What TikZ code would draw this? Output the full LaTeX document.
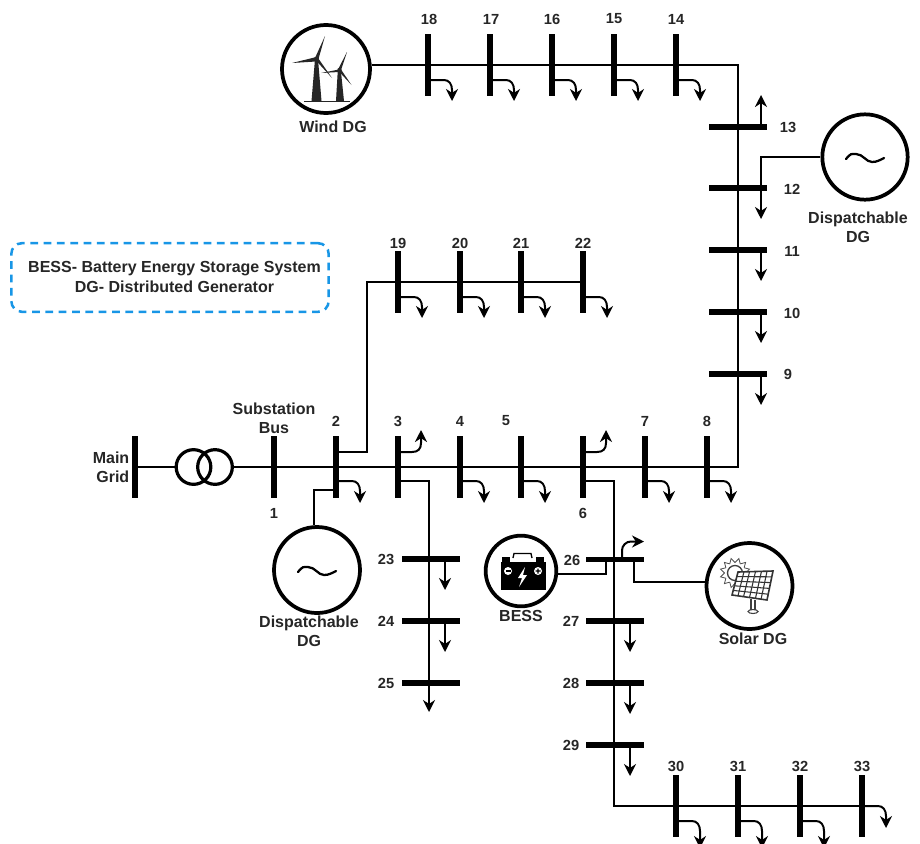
\documentclass[tikz,border=0pt]{standalone}
\usepackage{fontspec}
\setmainfont{Liberation Sans}
\usetikzlibrary{arrows.meta,calc}
\tikzset{
  vbus/.style={fill=black,inner sep=0pt,minimum width=4.6pt,minimum height=46pt},
  hbus/.style={fill=black,inner sep=0pt,minimum width=43.5pt,minimum height=4.4pt},
  wire/.style={draw=black,line width=1.5pt},
  loadw/.style={draw=black,line width=1.5pt,-{Stealth[length=9pt,width=9pt]}},
  lbl/.style={font=\bfseries\fontsize{11}{14}\selectfont,text=black!85,inner sep=0pt,align=center},
  wrd/.style={font=\bfseries\fontsize{12}{14.3}\selectfont,text=black!85,inner sep=0pt,align=center},
  src/.style={circle,draw=black,line width=2.8pt,inner sep=0pt,fill=white},
}
% load hanging down on the right of a vertical bus
\newcommand{\loaddn}[3]{\draw[loadw] ([yshift=-#2*0.75pt]#1.center) -- ++(16,0) .. controls +(5,0) and +(0,-6) .. ++(8,10) -- ++(0,#3);}
% load going up on the right of a vertical bus
\newcommand{\loadup}[2]{\draw[loadw] ([yshift=#2*0.75pt]#1.center) -- ++(14,0) .. controls +(6,0) and +(0,6) .. ++(9,-9) -- ++(0,-13);}
\newcommand{\sinewave}[1]{\draw[line width=1.7pt,line cap=round] ($(#1.center)+(-19,2)$) .. controls +(5,-6) and +(-5,0) .. ++(10,-5) .. controls +(7,0) and +(-6,0) .. ++(16,8) .. controls +(5,0) and +(-4,2) .. ++(12,-4);}
\begin{document}
\begin{tikzpicture}[x=0.75pt,y=-0.75pt]
\useasboundingbox (0,0) rectangle (920,843);
\coordinate (corner8) at (738,467);
\coordinate (corner14) at (738,65);
\node[src,minimum size=66pt] (wind) at (326,69) {};
\node[src,minimum size=64pt] (dg12) at (865,157) {};
\node[src,minimum size=64.5pt] (dg2) at (317,570) {};
\node[src,minimum size=53pt] (bess) at (521,571) {};
\node[src,minimum size=64.5pt] (solar) at (749.5,586) {};
\node[circle,draw=black,line width=2.4pt,inner sep=0pt,minimum size=26pt] (t1) at (193.5,467) {};
\node[circle,draw=black,line width=2.4pt,inner sep=0pt,minimum size=26pt] (t2) at (215,467) {};

\node[vbus] (grid) at (135,467) {};
\foreach \n/\x in {1/274,2/336,3/398,4/460,5/521,6/583,7/645,8/707}
  \node[vbus] (b\n) at (\x,467) {};
\foreach \n/\x in {18/428,17/490,16/552,15/614,14/676}
  \node[vbus] (b\n) at (\x,65) {};
\foreach \n/\x in {19/398,20/460,21/521,22/583}
  \node[vbus] (b\n) at (\x,282) {};
\foreach \n/\x in {30/676,31/738,32/800,33/862}
  \node[vbus] (b\n) at (\x,806) {};
\foreach \n/\y in {13/127,12/188,11/250,10/312,9/374}
  \node[hbus] (b\n) at (738,\y) {};
\foreach \n/\y in {23/559,24/621,25/683}
  \node[hbus] (b\n) at (431,\y) {};
\foreach \n/\y in {26/559.5,27/621,28/683,29/745}
  \node[hbus] (b\n) at (615,\y) {};

% wires
\draw[wire] (grid.center) -- (t1.west);
\draw[wire] (t2.east) -- (b1.center) -- (b8.center) -- (corner8) -- (corner14) -- (corner14 -| wind.east);
\draw[wire] ([yshift=11.25pt]b2.center) -- ++(31,0) |- (b19.center) -- (b22.center);
\draw[wire] ([yshift=-17pt]b2.center) -- ++(-22,0) -- (dg2.north -| 314,0);
\draw[wire] ([yshift=-10.5pt]b3.center) -- ++(31,0) -- (429,683);
\draw[loadw] (429,683) -- ++(0,29);
\draw[wire] ([yshift=-10.5pt]b6.center) -- ++(31,0) -- (614,745) -- ++(0,61) -- (b33.center);
\draw[wire] (606,559.5) -- ++(0,14) -- (bess.east |- 0,573.5);
\draw[wire] (634,559.5) -- ++(0,22.5) -- (solar.west |- 0,582);
\draw[wire] (b12.center) ++(23,0) -- ++(0,-31) -- (dg12.west);

% loads on vertical buses
\foreach \n in {2,4,5,7,8}{\loaddn{b\n}{14}{12}}
\foreach \n in {18,17,16,15,14,19,20,21,22}{\loaddn{b\n}{15}{11}}
\foreach \n in {30,31,32}{\loaddn{b\n}{15}{17}}
\loaddn{b33}{0}{12}
\loadup{b3}{15}
\loadup{b6}{15}
% loads on horizontal buses
\draw[loadw] ([xshift=17.25pt]b13.center) -- ++(0,-32);
\foreach \n in {12,11,10,9}{\draw[loadw] ([xshift=17.25pt]b\n.center) -- ++(0,31);}
\foreach \n in {23,24}{\draw[loadw] (445,0 |- b\n.center) -- ++(0,31);}
\foreach \n in {27,28,29}{\draw[loadw] (630,0 |- b\n.center) -- ++(0,31);}
\draw[loadw] (622,559.5) -- ++(0,-9) .. controls +(0,-5) and +(-5,0) .. ++(9,-9) -- ++(13,0);

\sinewave{dg12}
\sinewave{dg2}

% wind turbines
\begin{scope}[fill=black!85,draw=none]
\fill (315,59) -- (318,59) -- (321.5,101) -- (311.5,101) -- cycle;
\fill (337.8,70) -- (340.8,70) -- (344,101) -- (336,101) -- cycle;
\fill (316.5,57) -- (292,63) -- (316,61.5) -- cycle;
\fill (315,58) -- (325,36) -- (318.5,59) -- cycle;
\fill (315.5,60) -- (332,78) -- (318,58) -- cycle;
\fill (338.5,68.5) -- (347,52) -- (341,70) -- cycle;
\fill (338.5,71) -- (351.5,85) -- (341,69.5) -- cycle;
\fill (339,69.5) -- (321,73) -- (339,72) -- cycle;
\fill (316.5,59) circle (2.5);
\fill (339.5,70) circle (2.2);
\draw[black!85,line width=0.9pt] (304,101.5) -- (350,101.5);
\end{scope}

% battery
\draw[black,line width=1pt] (513,558) -- (514,553.5) -- (531,553.5) -- (532,558);
\fill[black] (500.5,562) rectangle (546,589.5);
\fill[black] (502,556.5) rectangle (510,562);
\fill[black] (536,556.5) rectangle (544,562);
\fill[white] (508,571) circle (4);
\fill[white] (538,571) circle (4);
\fill[black] (505.5,570.4) rectangle (510.5,571.6);
\fill[black] (535.5,570.4) rectangle (540.5,571.6) (537.4,568.5) rectangle (538.6,573.5);
\fill[white] (525,567) -- (518,578) -- (522,578) -- (519,587) -- (527,575) -- (523,575) -- cycle;

% solar panel
\coordinate (pa) at (738,572);
\coordinate (pb) at (773,571);
\coordinate (pc) at (767,600);
\coordinate (pd) at (732,595);
\foreach \a in {0,30,...,330}{
  \draw[black!70,line width=0.6pt] ($(735,573)+(\a:10.5)$) -- ($(735,573)+(\a+15:15)$) -- ($(735,573)+(\a+30:10.5)$);
}
\draw[black!75,line width=1pt] (735,573) circle (7.5);
\fill[white] (pa) -- (pb) -- (pc) -- (pd) -- cycle;
\draw[black!80,line width=1.2pt] (pa) -- (pb) -- (pc) -- (pd) -- cycle;
\foreach \t in {0.17,0.33,0.5,0.67,0.83}{
  \draw[black!80,line width=0.8pt] ($(pa)!\t!(pb)$) -- ($(pd)!\t!(pc)$);
}
\foreach \t in {0.2,0.4,0.6,0.8}{
  \draw[black!80,line width=0.8pt] ($(pa)!\t!(pd)$) -- ($(pb)!\t!(pc)$);
}
\draw[black!75,line width=0.8pt] (751,599) -- (751,610) (755,600) -- (755,610);
\draw[black!75,line width=0.8pt] (753,611.5) ellipse (5 and 2);

% legend
\node[draw={rgb,255:red,24;green,150;blue,230},dash pattern=on 5.8pt off 4.2pt,line width=1.9pt,rounded corners=8pt,minimum width=238pt,minimum height=51.5pt,inner sep=0pt] (legend) at (170,277.5) {};
\node[wrd,font=\bfseries\fontsize{12}{15}\selectfont] (legendtext) at (174.5,277) {BESS- Battery Energy Storage System\\DG- Distributed Generator};

% labels
\foreach \n/\x/\y in {18/429/19,17/491/19,16/552/19,15/614/19,14/676/19,13/788/127,12/792/189,11/792/251,10/792/313,9/788/374,
 19/398/243,20/460/243,21/521/243,22/583/243,2/336/421,3/398/421,4/460/421,5/506/421,7/645/421,8/707/421,1/274/513,6/583/513,
 23/386/559,24/386/621,25/386/683,26/572/560,27/571/621,28/571/683,29/571/745,30/676/766,31/738/766,32/800/766,33/862/766}
  \node[lbl] (t\n) at (\x,\y) {\n};
\node[wrd] (lwind) at (333,127) {Wind DG};
\node[wrd] (lsub) at (274,418.5) {Substation\\Bus};
\node[wrd,align=right] (lgrid) at (111,467.5) {Main\\Grid};
\node[wrd] (ldg2) at (309,631.5) {Dispatchable\\DG};
\node[wrd] (ldg12) at (858,227.5) {Dispatchable\\DG};
\node[wrd] (lbess) at (521,616) {BESS};
\node[wrd] (lsolar) at (753,639) {Solar DG};
\end{tikzpicture}
\end{document}
